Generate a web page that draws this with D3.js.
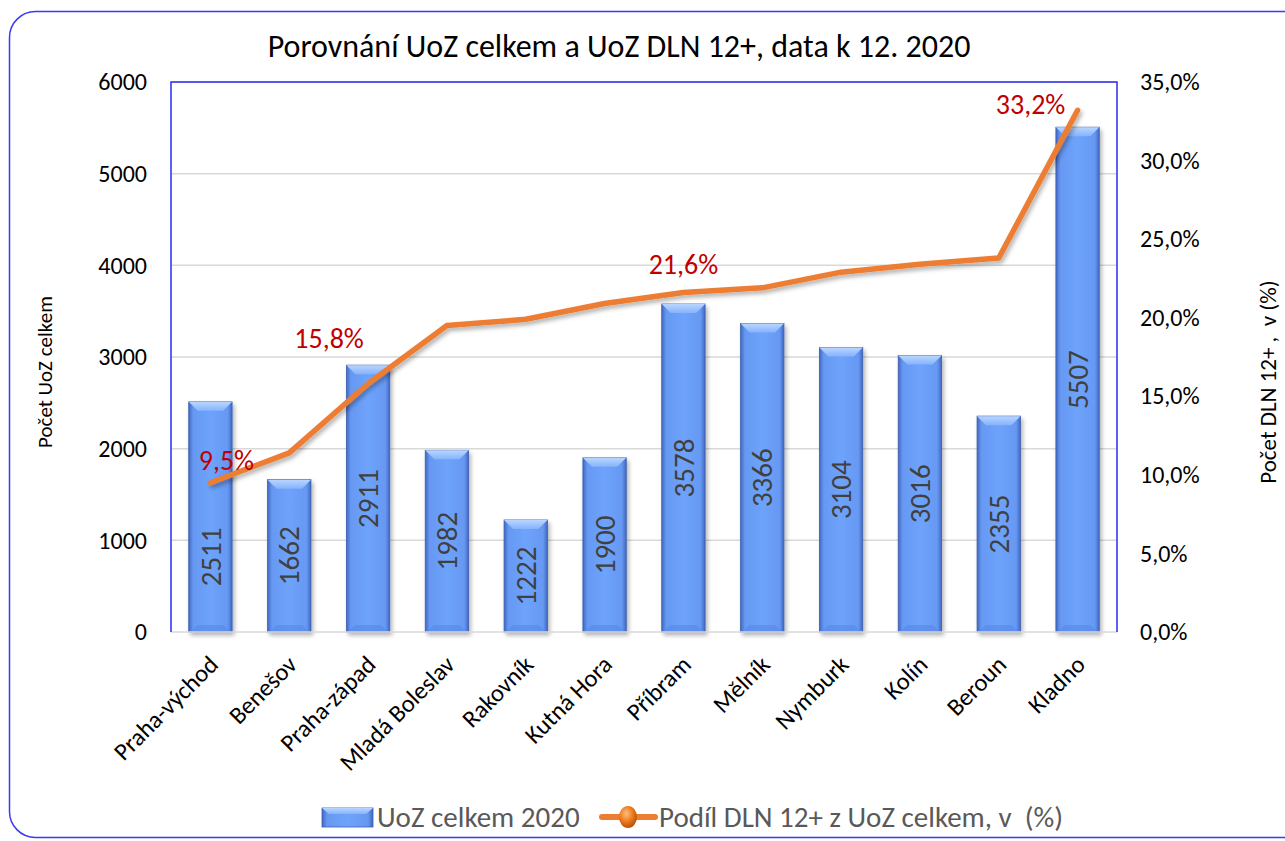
<!DOCTYPE html>
<html><head><meta charset="utf-8">
<script src="https://cdn.jsdelivr.net/npm/d3@7"></script>
<style>
body{margin:0;background:#fff}
svg{display:block}
text{font-family:Carlito,Calibri,Lato,"Open Sans",sans-serif;white-space:pre}
</style>
</head><body>
<svg id="c" width="1285" height="841"></svg>
<script>
const title = "Porovnání UoZ celkem a UoZ DLN 12+, data k 12. 2020";
const categories = ["Praha-východ","Benešov","Praha-západ","Mladá Boleslav","Rakovník","Kutná Hora","Příbram","Mělník","Nymburk","Kolín","Beroun","Kladno"];
const uozCelkem = [2511,1662,2911,1982,1222,1900,3578,3366,3104,3016,2355,5507];
const podilDLN = [9.5,11.4,15.8,19.5,19.9,20.9,21.6,21.9,22.9,23.4,23.8,33.2];
const leftTicks = [0,1000,2000,3000,4000,5000,6000];
const rightTicks = [0,5,10,15,20,25,30,35];
const labeledPoints = [0,2,6,11];
const seriesNames = ["UoZ celkem 2020","Podíl DLN 12+ z UoZ celkem, v  (%)"];
const axisTitles = ["Počet UoZ celkem","Počet DLN 12+ ,  v (%)"];

const svg = d3.select("#c");
const L=171, T=82, R=1117, B=632;

const defs = svg.append("defs");
const g1 = defs.append("linearGradient").attr("id","barG").attr("x1","0").attr("x2","1").attr("y1","0").attr("y2","0");
[[0,"#3f68c4"],[0.1,"#6698f2"],[0.5,"#6ea3fc"],[0.9,"#6698f2"],[1,"#3f68c4"]].forEach(s=>g1.append("stop").attr("offset",s[0]).attr("stop-color",s[1]));
const g2 = defs.append("linearGradient").attr("id","bevG").attr("x1","0").attr("x2","0").attr("y1","0").attr("y2","1");
[[0,"#b9d6ff"],[1,"#86b3fc"]].forEach(s=>g2.append("stop").attr("offset",s[0]).attr("stop-color",s[1]));
const rg = defs.append("radialGradient").attr("id","ball").attr("cx","0.4").attr("cy","0.35").attr("r","0.7");
[[0,"#ffc080"],[0.5,"#f07c20"],[1,"#b04c05"]].forEach(s=>rg.append("stop").attr("offset",s[0]).attr("stop-color",s[1]));
const f = defs.append("filter").attr("id","sh").attr("x","-20%").attr("y","-20%").attr("width","150%").attr("height","150%");
f.append("feDropShadow").attr("dx",2).attr("dy",3).attr("stdDeviation",2).attr("flood-color","#000").attr("flood-opacity",0.3);

// outer frame
svg.append("rect").attr("x",9.5).attr("y",11.5).attr("width",1300).attr("height",826).attr("rx",26)
  .attr("fill","none").attr("stroke","#3a3af5").attr("stroke-width",1.5);

const x = d3.scaleBand().domain(categories).range([L,R]).paddingInner(0.45).paddingOuter(0.225);
const y = d3.scaleLinear().domain([0,6000]).range([B,T]);
const y2 = d3.scaleLinear().domain([0,35]).range([B,T]);

// grid
svg.append("g").selectAll("line").data(leftTicks.slice(1)).join("line")
  .attr("x1",L).attr("x2",R).attr("y1",d=>y(d)).attr("y2",d=>y(d))
  .attr("stroke","#d9d9d9").attr("stroke-width",1.5);

// axes
const ax = d3.axisLeft(y).tickValues(leftTicks).tickSize(0).tickPadding(24).tickFormat(d=>d);
const gl = svg.append("g").attr("transform",`translate(${L},0)`).call(ax);
gl.select(".domain").remove();
gl.selectAll("text").attr("font-size",24).attr("fill","#000").attr("font-family","Carlito,Calibri,Lato,sans-serif");

const ax2 = d3.axisRight(y2).tickValues(rightTicks).tickSize(0).tickPadding(23)
  .tickFormat(d=>d3.format(".1f")(d).replace(".",",")+"%");
const gr = svg.append("g").attr("transform",`translate(${R},0)`).call(ax2);
gr.select(".domain").remove();
gr.selectAll("text").attr("font-size",24).attr("fill","#000").attr("font-family","Carlito,Calibri,Lato,sans-serif");

// bars
const bw = x.bandwidth();
const bars = svg.append("g").selectAll("g").data(categories).join("g").attr("filter","url(#sh)");
bars.append("rect").attr("x",d=>x(d)).attr("y",(d,i)=>y(uozCelkem[i])).attr("width",bw)
  .attr("height",(d,i)=>B-y(uozCelkem[i])).attr("fill","url(#barG)").attr("stroke","#3d5fae").attr("stroke-width",0.8);
bars.append("path").attr("d",(d,i)=>{const x0=x(d),y0=y(uozCelkem[i]);return `M${x0},${y0}L${x0+bw},${y0}L${x0+bw-9},${y0+9}L${x0+9},${y0+9}Z`;})
  .attr("fill","url(#bevG)");
bars.append("path").attr("d",(d)=>{const x0=x(d);return `M${x0+1},${B}L${x0+bw-1},${B}L${x0+bw-9},${B-7}L${x0+9},${B-7}Z`;})
  .attr("fill","#5a8ae8").attr("opacity",0.7);

// x axis baseline
svg.append("line").attr("x1",L).attr("x2",R).attr("y1",B).attr("y2",B).attr("stroke","#d9d9d9").attr("stroke-width",1.5);
// plot frame (blue) top/left/right
svg.append("path").attr("d",`M${L},${B}L${L},${T}L${R},${T}L${R},${B}`).attr("fill","none").attr("stroke","#2b2bf5").attr("stroke-width",1.5);

// bar value labels
const barLabelShift = {0:40};
svg.append("g").selectAll("text").data(categories).join("text")
  .attr("transform",(d,i)=>`translate(${x(d)+bw/2},${(y(uozCelkem[i])+B)/2+(barLabelShift[i]||0)}) rotate(-90)`)
  .attr("text-anchor","middle").attr("dy","0.35em").attr("font-size",29).attr("fill","#404040")
  .text((d,i)=>uozCelkem[i]);

// line
const line = d3.line().x((d,i)=>x(categories[i])+bw/2).y(d=>y2(d));
svg.append("path").datum(podilDLN).attr("d",line).attr("fill","none").attr("stroke","#ed7d31")
  .attr("stroke-width",5.5).attr("stroke-linejoin","round").attr("stroke-linecap","round").attr("filter","url(#sh)");

// point labels
const ptOffset = {0:[16,-23],2:[-39,-46],6:[0,-28],11:[-47,-6]};
svg.append("g").selectAll("text").data(labeledPoints).join("text")
  .attr("x",i=>x(categories[i])+bw/2+ptOffset[i][0])
  .attr("y",i=>y2(podilDLN[i])+ptOffset[i][1])
  .attr("text-anchor","middle").attr("dy","0.35em").attr("font-size",28).attr("fill","#c00000")
  .text(i=>d3.format(".1f")(podilDLN[i]).replace(".",",")+"%");

// category labels
svg.append("g").selectAll("text").data(categories).join("text")
  .attr("transform",d=>`translate(${x(d)+bw/2+3},${B+28}) rotate(-45)`)
  .attr("text-anchor","end").attr("dy","0.35em").attr("font-size",24.5).attr("fill","#000").text(d=>d);

// title
svg.append("text").attr("x",619).attr("y",57).attr("text-anchor","middle").attr("font-size",32).attr("fill","#000").text(title);

// axis titles
svg.append("text").attr("transform","translate(45,372) rotate(-90)").attr("text-anchor","middle").attr("dy","0.35em")
  .attr("font-size",21).attr("fill","#000").text(axisTitles[0]);
svg.append("text").attr("transform","translate(1268,382) rotate(-90)").attr("text-anchor","middle").attr("dy","0.35em")
  .attr("font-size",23).attr("fill","#000").text(axisTitles[1]);

// legend
const lg = svg.append("g");
lg.append("rect").attr("x",322).attr("y",808).attr("width",51).attr("height",19).attr("fill","url(#barG)").attr("stroke","#3d5fae").attr("stroke-width",0.8);
lg.append("path").attr("d","M322,808L373,808L366,814L329,814Z").attr("fill","url(#bevG)");
lg.append("text").attr("x",377).attr("y",817).attr("dy","0.35em").attr("font-size",29).attr("fill","#595959").text(seriesNames[0]);
lg.append("line").attr("x1",602).attr("x2",655).attr("y1",817).attr("y2",817).attr("stroke","#ed7d31").attr("stroke-width",6).attr("stroke-linecap","round");
lg.append("ellipse").attr("cx",628).attr("cy",817).attr("rx",9).attr("ry",11).attr("fill","url(#ball)");
lg.append("text").attr("x",659).attr("y",817).attr("dy","0.35em").attr("font-size",29).attr("fill","#595959").text(seriesNames[1]);
</script>
</body></html>
